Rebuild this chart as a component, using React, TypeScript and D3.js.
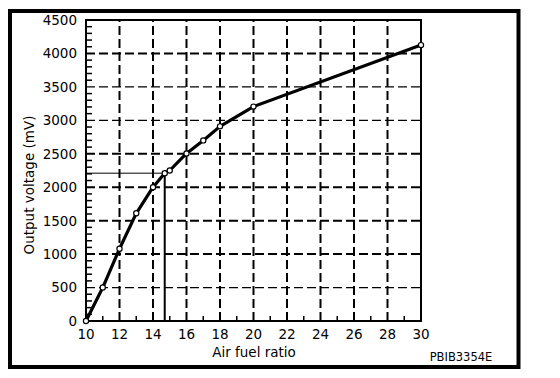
import React from "react";
import * as d3 from "d3";

const afr = [10, 11, 12, 13, 14, 14.7, 15, 16, 17, 18, 20, 30];
const mv = [0, 500, 1080, 1610, 2000, 2210, 2250, 2505, 2700, 2910, 3205, 4125];
const xTickLabels = [10, 12, 14, 16, 18, 20, 22, 24, 26, 28, 30];
const yTickLabels = [0, 500, 1000, 1500, 2000, 2500, 3000, 3500, 4000, 4500];
const thickY = [1000, 1500, 2000, 2500, 4000];
const refPoint = { x: 14.7, y: 2210 };

const W = 560, H = 378;
const FONT = "DejaVu Sans, Arial, sans-serif";

export default function App() {
  const x = d3.scaleLinear().domain([10, 30]).range([86, 421]);
  const y = d3.scaleLinear().domain([0, 4500]).range([321, 20]);
  const line = d3.line<number>().x((_, i) => x(afr[i])).y((d) => y(d)).curve(d3.curveLinear);
  const minorX = d3.range(11, 30, 1).filter((v) => v % 2 === 1);
  const minorY = d3.range(100, 4500, 100).filter((v) => v % 500 !== 0);
  return (
    <svg width={W} height={H} style={{ position: "absolute", left: 0, top: 0, background: "#fff" }}>
      <rect x={10} y={11} width={508.5} height={356} fill="none" stroke="#000" strokeWidth={4} />
      {yTickLabels.filter((v) => v > 0 && v < 4500).map((v) => (
        <line key={"hy" + v} x1={x(10)} x2={x(30)} y1={y(v)} y2={y(v)} stroke="#000"
          strokeWidth={thickY.includes(v) ? 2 : 1.2} strokeDasharray="9,4" />
      ))}
      {xTickLabels.filter((v) => v > 10 && v < 30).map((v) => (
        <line key={"vx" + v} x1={x(v)} x2={x(v)} y1={y(0)} y2={y(4500)} stroke="#000"
          strokeWidth={2} strokeDasharray="9,4" />
      ))}
      {minorX.map((v) => (
        <line key={"mx" + v} x1={x(v)} x2={x(v)} y1={y(0)} y2={y(0) - 5} stroke="#000" strokeWidth={1.5} />
      ))}
      {minorY.map((v) => (
        <line key={"my" + v} x1={x(10)} x2={x(10) + 6} y1={y(v)} y2={y(v)} stroke="#000" strokeWidth={1.5} />
      ))}
      <rect x={x(10)} y={y(4500)} width={x(30) - x(10)} height={y(0) - y(4500)} fill="none" stroke="#000" strokeWidth={2} />
      <line x1={x(10)} x2={x(refPoint.x)} y1={y(refPoint.y)} y2={y(refPoint.y)} stroke="#000" strokeWidth={1} />
      <line x1={x(refPoint.x)} x2={x(refPoint.x)} y1={y(refPoint.y)} y2={y(0)} stroke="#000" strokeWidth={2} />
      <path d={line(mv) || ""} fill="none" stroke="#000" strokeWidth={3.2} strokeLinejoin="round" />
      {mv.map((v, i) => (
        <circle key={"p" + i} cx={x(afr[i])} cy={y(v)} r={2.6} fill="#fff" stroke="#000" strokeWidth={1.2} />
      ))}
      {yTickLabels.map((v) => (
        <text key={"yl" + v} x={77} y={y(v)} dy="0.36em" textAnchor="end" fontFamily={FONT} fontSize={13.5} fill="#000">{v}</text>
      ))}
      {xTickLabels.map((v) => (
        <text key={"xl" + v} x={x(v)} y={339} textAnchor="middle" fontFamily={FONT} fontSize={13.5} fill="#000">{v}</text>
      ))}
      <text x={254} y={357} textAnchor="middle" fontFamily={FONT} fontSize={13.5} fill="#000">Air fuel ratio</text>
      <text transform={`translate(34,185) rotate(-90)`} textAnchor="middle" fontFamily={FONT} fontSize={13.5} fill="#000">Output voltage (mV)</text>
      <text x={461} y={361} textAnchor="middle" fontFamily={FONT} fontSize={11.5} fill="#000">PBIB3354E</text>
    </svg>
  );
}
